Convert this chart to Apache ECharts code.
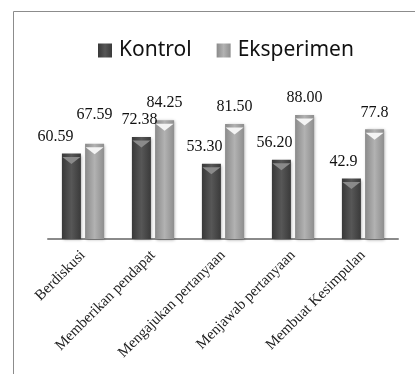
<!DOCTYPE html>
<html>
<head>
<meta charset="utf-8">
<script src="https://cdn.jsdelivr.net/npm/echarts@6/dist/echarts.min.js"></script>
<style>
html,body{margin:0;padding:0;background:#fff;}
#chart{width:415px;height:374px;}
</style>
</head>
<body>
<div id="chart"></div>
<script>
const categories = ['Berdiskusi', 'Memberikan pendapat', 'Mengajukan pertanyaan', 'Menjawab pertanyaan', 'Membuat Kesimpulan'];
const kontrol = [60.59, 72.38, 53.30, 56.20, 42.9];
const eksperimen = [67.59, 84.25, 81.50, 88.00, 77.8];
const kontrolLabels = ['60.59', '72.38', '53.30', '56.20', '42.9'];
const eksperimenLabels = ['67.59', '84.25', '81.50', '88.00', '77.8'];

// label nudges (style only)
const kontrolNudge = [[-16, 0], [-2, 0], [-7, 0], [-7, 0], [-8, 0]];
const eksperimenNudge = [[0, -12], [0, 0], [0, 0], [0, 0], [0, 0]];

const chart = echarts.init(document.getElementById('chart'));
const grad = (a, b, c) => new echarts.graphic.LinearGradient(0, 0, 1, 0, [
  {offset: 0, color: a}, {offset: 0.5, color: b}, {offset: 1, color: c}
]);
const kColor = grad('#383838', '#575757', '#3a3a3a');
const eColor = grad('#8a8a8a', '#b2b2b2', '#8e8e8e');

function barSeries(name, vals, labels, nudge, color) {
  return {
    name: name,
    type: 'bar',
    barWidth: 19,
    barGap: '22%',
    data: vals.map((v, i) => ({
      value: v,
      label: {offset: nudge[i]}
    })),
    itemStyle: {
      color: color,
      shadowColor: 'rgba(0,0,0,0.35)',
      shadowBlur: 3,
      shadowOffsetX: 1,
      shadowOffsetY: 1
    },
    label: {
      show: true,
      position: 'top',
      distance: 9,
      fontFamily: 'Liberation Serif',
      fontSize: 16,
      color: '#111',
      formatter: p => labels[p.dataIndex]
    }
  };
}
function capSeries(vals, color) {
  return {
    type: 'pictorialBar',
    barWidth: 19,
    barGap: '22%',
    symbol: 'path://M0,0 L10,0 L5,5 Z',
    symbolSize: [18, 7],
    symbolPosition: 'end',
    symbolOffset: [0, '50%'],
    silent: true,
    z: 3,
    itemStyle: {color: color},
    data: vals
  };
}

chart.setOption({
  animation: false,
  backgroundColor: '#fff',
  graphic: [
    {type: 'line', shape: {x1: 13.5, y1: 11.5, x2: 415, y2: 11.5}, style: {stroke: '#8c8c8c', lineWidth: 1}},
    {type: 'line', shape: {x1: 13.5, y1: 11.5, x2: 13.5, y2: 374}, style: {stroke: '#8c8c8c', lineWidth: 1}}
  ],
  legend: {
    data: ['Kontrol', 'Eksperimen'],
    left: 93,
    top: 35,
    itemWidth: 14,
    itemHeight: 14,
    itemGap: 25,
    icon: 'rect',
    textStyle: {fontFamily: 'Noto Sans', fontSize: 21, color: '#111', padding: [0, 0, 0, 2]}
  },
  grid: {left: 48, right: 17, top: 98, bottom: 135, containLabel: false},
  xAxis: {
    type: 'category',
    data: categories,
    axisLine: {lineStyle: {color: '#8a8a8a', width: 2}},
    axisTick: {show: false},
    axisLabel: {
      rotate: 45,
      interval: 0,
      margin: 14,
      fontFamily: 'Liberation Serif',
      fontSize: 15,
      color: '#222'
    }
  },
  yAxis: {
    type: 'value',
    min: 0,
    max: 100,
    show: false,
    splitLine: {show: false}
  },
  series: [
    barSeries('Kontrol', kontrol, kontrolLabels, kontrolNudge, kColor),
    barSeries('Eksperimen', eksperimen, eksperimenLabels, eksperimenNudge, eColor),
    capSeries(kontrol, '#8a8a8a'),
    capSeries(eksperimen, '#f4f4f4')
  ]
});
</script>
</body>
</html>
